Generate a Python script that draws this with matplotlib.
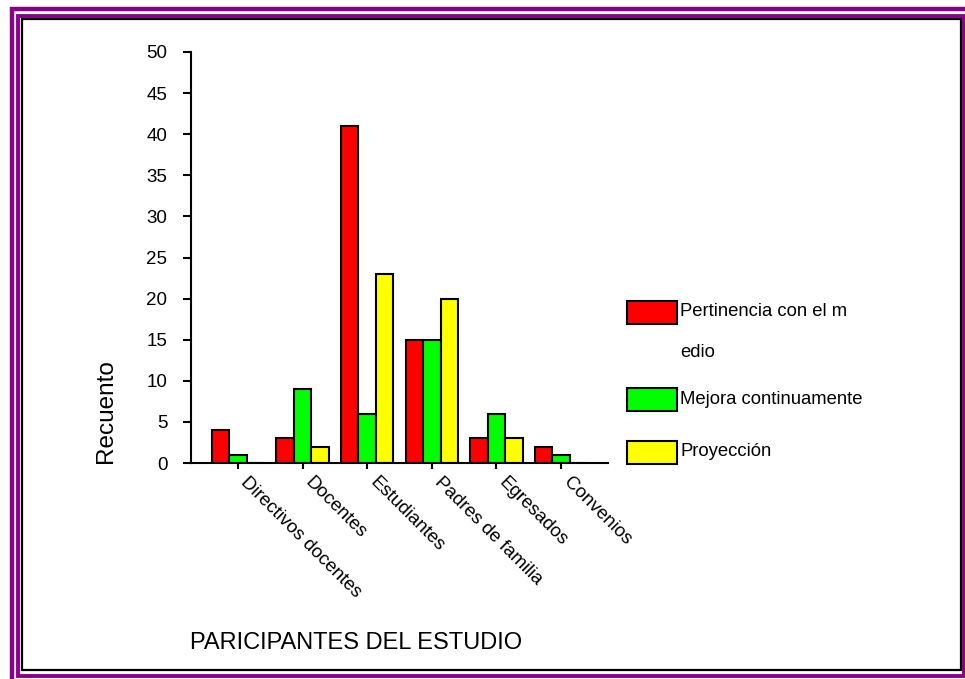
import matplotlib.pyplot as plt
import matplotlib.transforms as mtransforms
from matplotlib.patches import Rectangle
import numpy as np

plt.rcParams['font.family'] = ['Liberation Sans', 'DejaVu Sans']

categorias = ['Directivos docentes', 'Docentes', 'Estudiantes',
              'Padres de familia', 'Egresados', 'Convenios']
pertinencia = [4, 3, 41, 15, 3, 2]
mejora = [1, 9, 6, 15, 6, 1]
proyeccion = [0, 2, 23, 20, 3, 0]

series = ['Pertinencia con el m\nedio', 'Mejora continuamente', 'Proyección']
colores = ['#FF0000', '#00FF00', '#FFFF00']
yticks = [0, 5, 10, 15, 20, 25, 30, 35, 40, 45, 50]

W, H = 965, 679


def fx(px):
    return px / W


def fy(py):
    return 1 - py / H


fig = plt.figure(figsize=(9.65, 6.79), dpi=100)
ax = fig.add_axes([fx(191), fy(463), fx(608) - fx(191), fy(52) - fy(463)])

x = np.arange(len(categorias))
w = 0.27
for i, (vals, col) in enumerate(zip([pertinencia, mejora, proyeccion], colores)):
    ax.bar(x + (i - 1) * w, vals, width=w, color=col, edgecolor='black',
           linewidth=1.5, zorder=2)

ax.set_xlim(-0.728, 5.728)
ax.set_ylim(0, 50)
ax.set_yticks(yticks)
ax.set_xticks(x)
ax.set_xticklabels(categorias, rotation=-45, ha='left', va='top',
                   rotation_mode='anchor', fontsize=13.5)
ax.tick_params(axis='y', direction='out', length=6, width=1.5, pad=11,
               labelsize=13.5)
ax.tick_params(axis='x', direction='out', length=4, width=1.5, pad=0)
# correr etiquetas del eje x hacia abajo-derecha
desplaza = mtransforms.ScaledTranslation(0.11, -0.05, fig.dpi_scale_trans)
for lab in ax.get_xticklabels():
    lab.set_transform(lab.get_transform() + desplaza)
for s in ['top', 'right']:
    ax.spines[s].set_visible(False)
for s in ['left', 'bottom']:
    ax.spines[s].set_linewidth(1.5)
    ax.spines[s].set_zorder(3)

fig.text(fx(106), fy(463), 'Recuento', rotation=90, ha='center', va='bottom',
         fontsize=17.5)
fig.text(fx(190), fy(643), 'PARICIPANTES DEL ESTUDIO', ha='left', va='center',
         fontsize=17)

# leyenda a mano
leg_y = [312, 400, 452]
for nombre, col, cy in zip(series, colores, leg_y):
    fig.add_artist(Rectangle((fx(627), fy(cy + 11.5)), fx(677) - fx(627),
                             fy(cy - 11.5) - fy(cy + 11.5),
                             transform=fig.transFigure, facecolor=col,
                             edgecolor='black', linewidth=1.5))
    lineas = nombre.split('\n')
    for k, linea in enumerate(lineas):
        fig.text(fx(680), fy(cy + 40 * k), linea, ha='left', va='center',
                 fontsize=13.3)

# marco
fig.add_artist(Rectangle((fx(12), fy(700)), fx(990) - fx(12), fy(9.5) - fy(700),
                         transform=fig.transFigure, fill=False,
                         edgecolor='#8B008B', linewidth=3.2))
fig.add_artist(Rectangle((fx(18), fy(675.5)), fx(963.5) - fx(18),
                         fy(15.5) - fy(675.5), transform=fig.transFigure,
                         fill=False, edgecolor='#8B008B', linewidth=2.8))
fig.add_artist(Rectangle((fx(22), fy(670)), fx(961) - fx(22), fy(19) - fy(670),
                         transform=fig.transFigure, fill=False,
                         edgecolor='black', linewidth=1.6))

fig.savefig('out.png', dpi=100)
